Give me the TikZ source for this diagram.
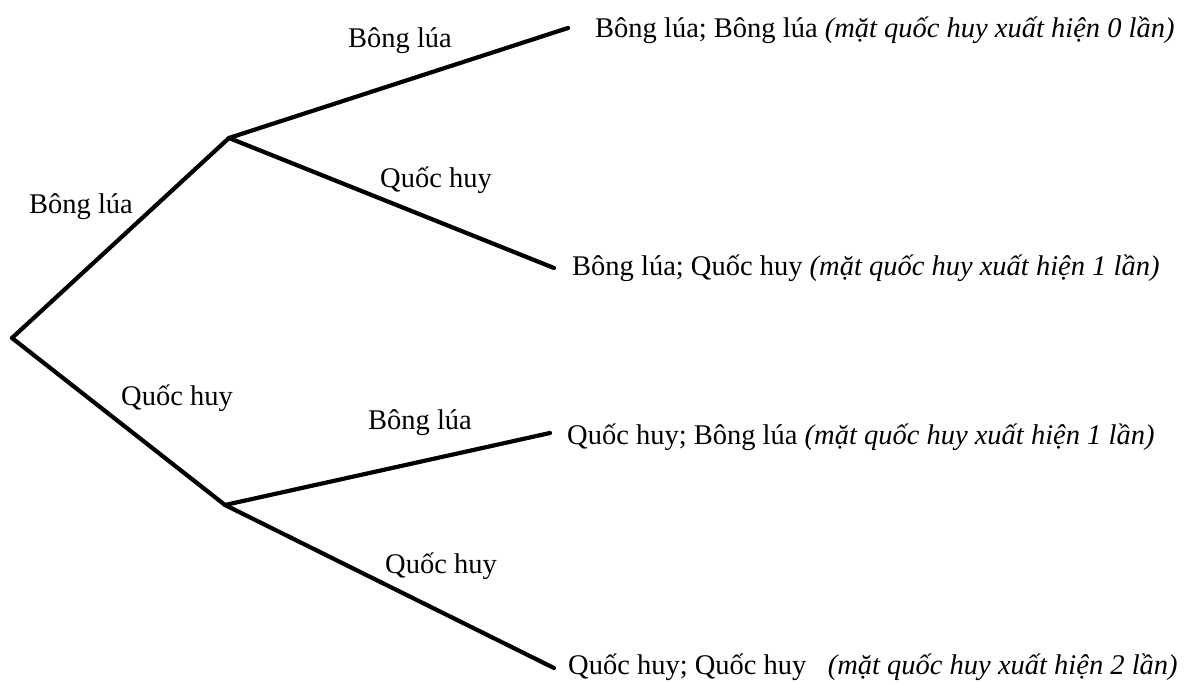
\documentclass[tikz,border=0pt]{standalone}
\usepackage{fontspec}
\setmainfont{Liberation Serif}
\begin{document}
\begin{tikzpicture}[x=1pt,y=-1pt,
  branch/.style={line width=4.2pt,line cap=round,line join=round},
  lbl/.style={inner sep=0pt,font=\fontsize{28.5}{34}\selectfont},
  leaf/.style={inner sep=0pt,anchor=west,font=\fontsize{28.5}{34}\selectfont},
  pt/.style={inner sep=0pt,minimum size=0pt}]
\useasboundingbox[fill=white] (0,0) rectangle (1196,684);
% branching points
\node[pt] (root) at (12,338) {};
\node[pt] (up) at (229,138) {};
\node[pt] (dn) at (225,505) {};
% leaf ends
\coordinate (e1) at (568,28);
\coordinate (e2) at (554,268);
\coordinate (e3) at (550,433);
\coordinate (e4) at (554,668);
% branches
\draw[branch] (root.center) -- (up.center);
\draw[branch] (root.center) -- (dn.center);
\draw[branch] (up.center) -- (e1);
\draw[branch] (up.center) -- (e2);
\draw[branch] (dn.center) -- (e3);
\draw[branch] (dn.center) -- (e4);
% branch labels
\node[lbl] (l1) at (81,207) {Bông lúa};
\node[lbl] (l2) at (177,398) {Quốc huy};
\node[lbl] (l3) at (400,41) {Bông lúa};
\node[lbl] (l4) at (436,180) {Quốc huy};
\node[lbl] (l5) at (420,423) {Bông lúa};
\node[lbl] (l6) at (441,566) {Quốc huy};
% outcomes
\node[leaf] (o1) at (595,30) {Bông lúa; Bông lúa \textit{(mặt quốc huy xuất hiện 0 lần)}};
\node[leaf] (o2) at (572,268) {Bông lúa; Quốc huy \textit{(mặt quốc huy xuất hiện 1 lần)}};
\node[leaf] (o3) at (567,437) {Quốc huy; Bông lúa \textit{(mặt quốc huy xuất hiện 1 lần)}};
\node[leaf] (o4) at (568,667) {Quốc huy; Quốc huy\hspace{0.5em} \textit{(mặt quốc huy xuất hiện 2 lần)}};
\end{tikzpicture}
\end{document}
